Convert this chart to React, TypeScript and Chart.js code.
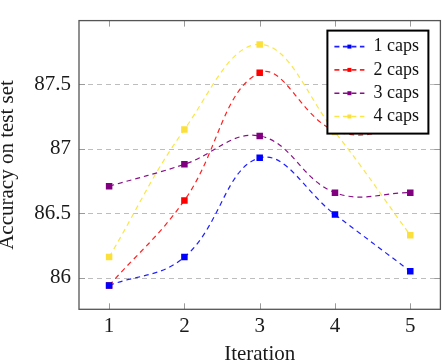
import React, { useEffect, useRef } from "react";
import { Chart, registerables } from "chart.js";

Chart.register(...registerables);

// Test-set accuracy per training iteration, one series per number of capsules
const iterations = [1, 2, 3, 4, 5];
const caps1 = [85.94, 86.16, 86.93, 86.49, 86.05];
const caps2 = [85.94, 86.6, 87.59, 87.14, 87.15];
const caps3 = [86.71, 86.88, 87.1, 86.66, 86.66];
const caps4 = [86.16, 87.15, 87.81, 87.13, 86.33];

const seriesLabels = ["1 caps", "2 caps", "3 caps", "4 caps"];
const seriesValues = [caps1, caps2, caps3, caps4];
const seriesColors = ["#0000ff", "#ff0000", "#800080", "#fbe03c"];
const lineColors = ["#2020ff", "#ff2020", "#861086", "#fbe646"];

const xLimits = [0.6, 5.4];
const yLimits = [85.755, 87.995];

const SERIF = '"Liberation Serif", "Times New Roman", Times, serif';

// Dashed horizontal grid, inward tick marks and the axis box
const framePlugin = {
  id: "frame",
  beforeDatasetsDraw(chart: any) {
    const { ctx, chartArea: a, scales } = chart;
    ctx.save();
    ctx.lineWidth = 1;
    ctx.strokeStyle = "#bdbdbd";
    ctx.setLineDash([5, 4]);
    for (const t of scales.y.ticks) {
      const y = Math.round(scales.y.getPixelForValue(t.value)) + 0.5;
      ctx.beginPath();
      ctx.moveTo(a.left, y);
      ctx.lineTo(a.right, y);
      ctx.stroke();
    }
    ctx.setLineDash([]);
    ctx.strokeStyle = "#9a9a9a";
    const tl = 6;
    for (const t of scales.x.ticks) {
      const x = Math.round(scales.x.getPixelForValue(t.value)) + 0.5;
      ctx.beginPath();
      ctx.moveTo(x, a.top);
      ctx.lineTo(x, a.top + tl);
      ctx.moveTo(x, a.bottom);
      ctx.lineTo(x, a.bottom - tl);
      ctx.stroke();
    }
    for (const t of scales.y.ticks) {
      const y = Math.round(scales.y.getPixelForValue(t.value)) + 0.5;
      ctx.beginPath();
      ctx.moveTo(a.left, y);
      ctx.lineTo(a.left + tl, y);
      ctx.moveTo(a.right, y);
      ctx.lineTo(a.right - tl, y);
      ctx.stroke();
    }
    ctx.strokeStyle = "#555555";
    ctx.lineWidth = 1.3;
    ctx.strokeRect(a.left, a.top, a.right - a.left, a.bottom - a.top);
    ctx.restore();
  },
};

// Boxed legend in the upper right corner of the plot
const legendPlugin = {
  id: "boxLegend",
  afterDatasetsDraw(chart: any) {
    const { ctx, chartArea: a } = chart;
    const boxW = 101;
    const boxH = 103;
    const x0 = a.right - 12 - boxW;
    const y0 = a.top + 10;
    ctx.save();
    ctx.fillStyle = "#ffffff";
    ctx.fillRect(x0, y0, boxW, boxH);
    ctx.strokeStyle = "#000000";
    ctx.lineWidth = 2;
    ctx.strokeRect(x0, y0, boxW, boxH);
    chart.data.datasets.forEach((ds: any, i: number) => {
      const cy = y0 + 16 + i * 23.3;
      ctx.strokeStyle = ds.borderColor;
      ctx.lineWidth = 1.6;
      ctx.setLineDash([5, 3.5]);
      ctx.beginPath();
      ctx.moveTo(x0 + 7, cy);
      ctx.lineTo(x0 + 37, cy);
      ctx.stroke();
      ctx.setLineDash([]);
      ctx.fillStyle = ds.pointBackgroundColor;
      ctx.fillRect(x0 + 20, cy - 2, 4, 4);
      ctx.fillStyle = "#111111";
      ctx.font = `18px ${SERIF}`;
      ctx.textBaseline = "middle";
      ctx.textAlign = "left";
      ctx.fillText(ds.label, x0 + 46, cy);
    });
    ctx.restore();
  },
};

export default function App() {
  const canvasRef = useRef<HTMLCanvasElement | null>(null);

  useEffect(() => {
    if (!canvasRef.current) return;
    const chart = new Chart(canvasRef.current, {
      type: "line",
      data: {
        datasets: seriesValues.map((vals, i) => ({
          label: seriesLabels[i],
          data: iterations.map((x, j) => ({ x, y: vals[j] })),
          borderColor: lineColors[i],
          backgroundColor: seriesColors[i],
          borderWidth: 1.2,
          borderDash: [5, 4],
          tension: 0.4,
          fill: false,
          pointStyle: "rect",
          pointRadius: 4.6,
          pointBorderWidth: 0,
          pointBackgroundColor: seriesColors[i],
        })),
      },
      options: {
        animation: false,
        responsive: true,
        maintainAspectRatio: false,
        events: [],
        layout: { padding: { top: 7, right: 2, left: 0, bottom: 0 } },
        plugins: {
          legend: { display: false },
          tooltip: { enabled: false },
        },
        scales: {
          x: {
            type: "linear",
            min: xLimits[0],
            max: xLimits[1],
            afterFit: (s: any) => {
              s.height = 52.7;
            },
            grid: { display: false, drawTicks: false },
            border: { display: false },
            ticks: {
              stepSize: 1,
              includeBounds: false,
              padding: 5,
              color: "#1a1a1a",
              font: { family: SERIF, size: 21 },
              callback: (v: any) => String(v),
            },
            title: {
              display: true,
              text: "Iteration",
              color: "#1a1a1a",
              font: { family: SERIF, size: 21, lineHeight: 1 },
              padding: { top: 0, bottom: -3 },
            },
          },
          y: {
            type: "linear",
            min: yLimits[0],
            max: yLimits[1],
            afterFit: (s: any) => {
              s.width = 79;
            },
            grid: { display: false, drawTicks: false },
            border: { display: false },
            ticks: {
              stepSize: 0.5,
              includeBounds: false,
              padding: 8,
              color: "#1a1a1a",
              font: { family: SERIF, size: 21 },
              callback: (v: any) => String(v),
            },
            title: {
              display: true,
              text: "Accuracy on test set",
              color: "#1a1a1a",
              font: { family: SERIF, size: 21, lineHeight: 1 },
              padding: { top: -3, bottom: 0 },
            },
          },
        },
      },
      plugins: [framePlugin, legendPlugin],
    } as any);
    return () => chart.destroy();
  }, []);

  return (
    <div style={{ position: "absolute", left: 0, top: 0, width: 445, height: 362, background: "#ffffff" }}>
      <canvas ref={canvasRef} style={{ display: "block" }} />
    </div>
  );
}
